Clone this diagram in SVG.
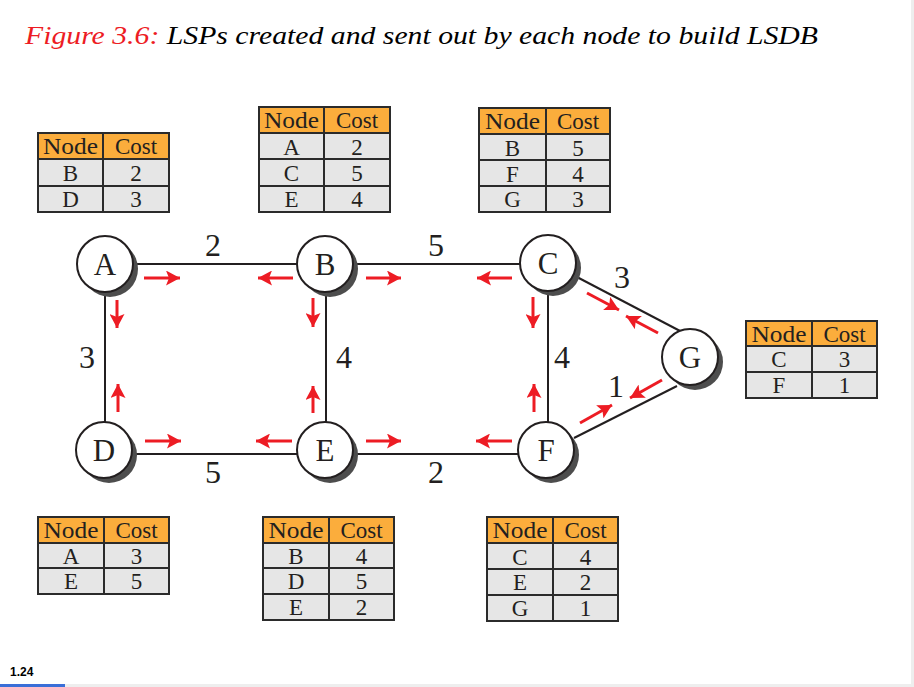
<svg xmlns="http://www.w3.org/2000/svg" width="914" height="687" viewBox="0 0 914 687">
<defs>
<style>
.tbl text{font-family:"Liberation Serif","Times New Roman",serif;font-size:23px;fill:#231f20;text-anchor:middle}
.tbl text.n{font-size:23px}
.hdr{fill:#fbad3c}
.row{fill:#e6e6e6}
.grid{fill:none;stroke:#2b2b2b;stroke-width:2}
.node circle.sh{fill:#4d4d4d}
.node circle.fg{fill:#fff;stroke:#231f20;stroke-width:2}
.node text{font-family:"Liberation Serif","Times New Roman",serif;font-size:31px;fill:#231f20;text-anchor:middle}
.edge{stroke:#231f20;stroke-width:2;fill:none}
.arr{stroke:#ed1c24;stroke-width:3;fill:none;marker-end:url(#ah)}
.lbl{font-family:"Liberation Serif","Times New Roman",serif;font-size:32px;fill:#231f20;text-anchor:middle}
</style>
<marker id="ah" markerUnits="userSpaceOnUse" markerWidth="15" markerHeight="15" refX="14" refY="7.5" orient="auto">
<path d="M0,0 L14,7.5 L0,15 L3,7.5 Z" fill="#ed1c24"/>
</marker>
</defs>
<rect width="914" height="687" fill="#fff"/>
<text x="25" y="44" font-family="Liberation Serif,'Times New Roman',serif" font-style="italic" font-size="26" textLength="793" lengthAdjust="spacingAndGlyphs"><tspan fill="#ed1c24">Figure 3.6:</tspan><tspan fill="#000"> LSPs created and sent out by each node to build LSDB</tspan></text>

<g id="connectors">
<line class="edge" x1="105" y1="264" x2="325" y2="264"/>
<line class="edge" x1="325" y1="264" x2="548" y2="264"/>
<line class="edge" x1="105" y1="264" x2="105" y2="450"/>
<line class="edge" x1="326" y1="264" x2="326" y2="450"/>
<line class="edge" x1="548" y1="264" x2="548" y2="450"/>
<line class="edge" x1="104" y1="454" x2="325" y2="454"/>
<line class="edge" x1="325" y1="454" x2="546" y2="454"/>
<line class="edge" x1="575" y1="276" x2="682" y2="332"/>
<line class="edge" x1="574" y1="438" x2="677" y2="386"/>
<text class="lbl" x="213" y="256">2</text>
<text class="lbl" x="436" y="256">5</text>
<text class="lbl" x="622" y="288">3</text>
<text class="lbl" x="87" y="368">3</text>
<text class="lbl" x="344" y="368">4</text>
<text class="lbl" x="562" y="368">4</text>
<text class="lbl" x="616" y="397">1</text>
<text class="lbl" x="213" y="483">5</text>
<text class="lbl" x="436" y="483">2</text>
<path class="arr" d="M144,278 H180"/>
<path class="arr" d="M117,300 V328"/>
<path class="arr" d="M293,278 H258"/>
<path class="arr" d="M313,298 V327"/>
<path class="arr" d="M366,278 H401"/>
<path class="arr" d="M512,278 H477"/>
<path class="arr" d="M533,297 V328"/>
<path class="arr" d="M587,293 L619,310"/>
<path class="arr" d="M658,333 L626,316"/>
<path class="arr" d="M662,380 L630,398"/>
<path class="arr" d="M580,423 L612,405"/>
<path class="arr" d="M534,412 V384"/>
<path class="arr" d="M512,441 H476"/>
<path class="arr" d="M366,441 H401"/>
<path class="arr" d="M292,441 H256"/>
<path class="arr" d="M313,413 V386"/>
<path class="arr" d="M145,441 H181"/>
<path class="arr" d="M118,412 V384"/>
</g>

<g id="node-A" class="node"><circle class="sh" cx="110" cy="269" r="28"/><circle class="fg" cx="105" cy="264" r="28"/><text x="105" y="275">A</text></g>
<g id="node-B" class="node"><circle class="sh" cx="330" cy="269" r="28"/><circle class="fg" cx="325" cy="264" r="28"/><text x="325" y="275">B</text></g>
<g id="node-C" class="node"><circle class="sh" cx="553" cy="268" r="28"/><circle class="fg" cx="548" cy="263" r="28"/><text x="548" y="274">C</text></g>
<g id="node-G" class="node"><circle class="sh" cx="695" cy="362" r="28"/><circle class="fg" cx="690" cy="357" r="28"/><text x="690" y="368">G</text></g>
<g id="node-D" class="node"><circle class="sh" cx="109" cy="455" r="28"/><circle class="fg" cx="104" cy="450" r="28"/><text x="104" y="461">D</text></g>
<g id="node-E" class="node"><circle class="sh" cx="330" cy="455" r="28"/><circle class="fg" cx="325" cy="450" r="28"/><text x="325" y="461">E</text></g>
<g id="node-F" class="node"><circle class="sh" cx="551" cy="455" r="28"/><circle class="fg" cx="546" cy="450" r="28"/><text x="546" y="461">F</text></g>

<g id="table-A" class="tbl">
<rect class="hdr" x="38" y="133" width="131" height="26"/><rect class="row" x="38" y="159" width="131" height="53"/>
<path class="grid" d="M38,133 H169 V212 H38 Z M38,159 H169 M38,186 H169 M103,133 V212"/>
<text x="70.5" y="154" textLength="55" lengthAdjust="spacingAndGlyphs">Node</text><text x="136" y="154">Cost</text>
<text x="70.5" y="181">B</text><text x="136" y="181">2</text>
<text x="70.5" y="207">D</text><text x="136" y="207">3</text>
</g>
<g id="table-B" class="tbl">
<rect class="hdr" x="259" y="107" width="131" height="26"/><rect class="row" x="259" y="133" width="131" height="79"/>
<path class="grid" d="M259,107 H390 V212 H259 Z M259,133 H390 M259,159 H390 M259,186 H390 M324,107 V212"/>
<text x="291.5" y="128" textLength="55" lengthAdjust="spacingAndGlyphs">Node</text><text x="357" y="128">Cost</text>
<text x="291.5" y="155">A</text><text x="357" y="155">2</text>
<text x="291.5" y="181">C</text><text x="357" y="181">5</text>
<text x="291.5" y="207">E</text><text x="357" y="207">4</text>
</g>
<g id="table-C" class="tbl">
<rect class="hdr" x="479" y="108" width="131" height="26"/><rect class="row" x="479" y="134" width="131" height="78"/>
<path class="grid" d="M479,108 H610 V212 H479 Z M479,134 H610 M479,160 H610 M479,186 H610 M546,108 V212"/>
<text x="512.5" y="129" textLength="55" lengthAdjust="spacingAndGlyphs">Node</text><text x="578" y="129">Cost</text>
<text x="512.5" y="156">B</text><text x="578" y="156">5</text>
<text x="512.5" y="182">F</text><text x="578" y="182">4</text>
<text x="512.5" y="207">G</text><text x="578" y="207">3</text>
</g>
<g id="table-G" class="tbl">
<rect class="hdr" x="746" y="321" width="131" height="25"/><rect class="row" x="746" y="346" width="131" height="52"/>
<path class="grid" d="M746,321 H877 V398 H746 Z M746,346 H877 M746,372 H877 M812,321 V398"/>
<text x="779" y="342" textLength="55" lengthAdjust="spacingAndGlyphs">Node</text><text x="844.5" y="342">Cost</text>
<text x="779" y="367">C</text><text x="844.5" y="367">3</text>
<text x="779" y="393">F</text><text x="844.5" y="393">1</text>
</g>
<g id="table-D" class="tbl">
<rect class="hdr" x="38" y="517" width="131" height="26"/><rect class="row" x="38" y="543" width="131" height="51"/>
<path class="grid" d="M38,517 H169 V594 H38 Z M38,543 H169 M38,568 H169 M104,517 V594"/>
<text x="71" y="538" textLength="55" lengthAdjust="spacingAndGlyphs">Node</text><text x="136.5" y="538">Cost</text>
<text x="71" y="564">A</text><text x="136.5" y="564">3</text>
<text x="71" y="589">E</text><text x="136.5" y="589">5</text>
</g>
<g id="table-E" class="tbl">
<rect class="hdr" x="263" y="517" width="131" height="26"/><rect class="row" x="263" y="543" width="131" height="77"/>
<path class="grid" d="M263,517 H394 V620 H263 Z M263,543 H394 M263,568 H394 M263,594 H394 M329,517 V620"/>
<text x="296" y="538" textLength="55" lengthAdjust="spacingAndGlyphs">Node</text><text x="361.5" y="538">Cost</text>
<text x="296" y="564">B</text><text x="361.5" y="564">4</text>
<text x="296" y="589">D</text><text x="361.5" y="589">5</text>
<text x="296" y="615">E</text><text x="361.5" y="615">2</text>
</g>
<g id="table-F" class="tbl">
<rect class="hdr" x="487" y="517" width="131" height="26"/><rect class="row" x="487" y="543" width="131" height="78"/>
<path class="grid" d="M487,517 H618 V621 H487 Z M487,543 H618 M487,569 H618 M487,595 H618 M553,517 V621"/>
<text x="520" y="538" textLength="55" lengthAdjust="spacingAndGlyphs">Node</text><text x="585.5" y="538">Cost</text>
<text x="520" y="565">C</text><text x="585.5" y="565">4</text>
<text x="520" y="590">E</text><text x="585.5" y="590">2</text>
<text x="520" y="616">G</text><text x="585.5" y="616">1</text>
</g>

<text x="10" y="676" font-family="Liberation Sans,Arial,sans-serif" font-weight="bold" font-size="12" fill="#000">1.24</text>
<rect x="0" y="684" width="914" height="3" fill="#eeeeee"/>
<rect x="0" y="684" width="65" height="3" fill="#3a6fd8"/>
<rect x="911" y="0" width="3" height="687" fill="#eeeeee"/>
</svg>
